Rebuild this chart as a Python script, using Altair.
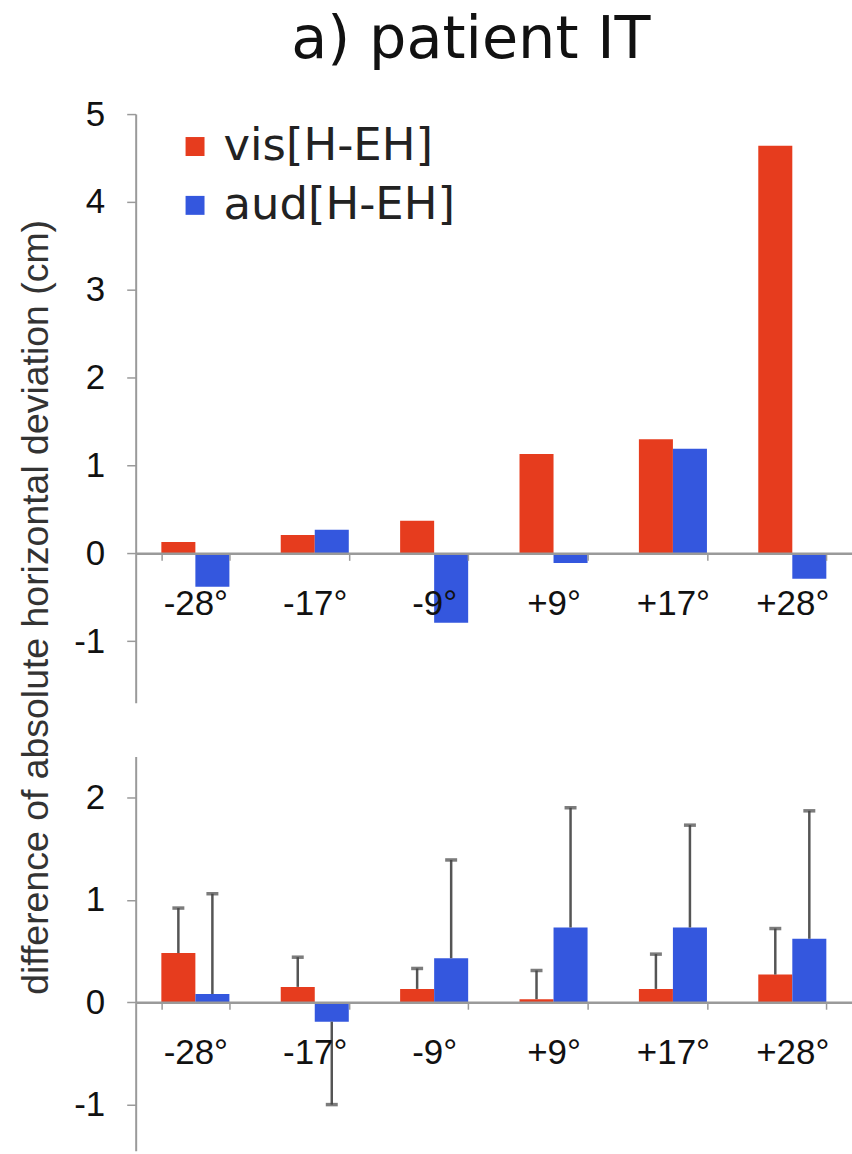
import altair as alt
import pandas as pd

cats = ["-28°", "-17°", "-9°", "+9°", "+17°", "+28°"]
series = ["vis[H-EH]", "aud[H-EH]"]
colors = ["#E63C1E", "#3457DE"]

top_vis = [0.13, 0.21, 0.37, 1.13, 1.30, 4.64]
top_aud = [-0.38, 0.27, -0.79, -0.11, 1.19, -0.29]

bot_vis = [0.48, 0.15, 0.13, 0.03, 0.13, 0.27]
bot_aud = [0.08, -0.19, 0.43, 0.73, 0.73, 0.62]
bot_vis_err = [0.92, 0.44, 0.33, 0.31, 0.47, 0.72]
bot_aud_err = [1.06, -1.00, 1.39, 1.90, 1.73, 1.87]

top_ticks = [-1, 0, 1, 2, 3, 4, 5]
bot_ticks = [-1, 0, 1, 2]
top_domain = [-1.7, 5.0]
bot_domain = [-1.45, 2.4]

W = 718
H_TOP = 590
H_BOT = 395

top_df = pd.DataFrame({
    "cat": cats * 2,
    "series": [series[0]] * 6 + [series[1]] * 6,
    "value": top_vis + top_aud,
})
bot_df = pd.DataFrame({
    "cat": cats * 2,
    "series": [series[0]] * 6 + [series[1]] * 6,
    "value": bot_vis + bot_aud,
    "err": bot_vis_err + bot_aud_err,
})

AX = "#9a9a9a"
LABEL_FONT = "Liberation Sans"


def x_enc(offset):
    return alt.X(
        "cat:N", sort=cats,
        scale=alt.Scale(paddingInner=0.43, paddingOuter=0.215),
        axis=alt.Axis(
            title=None, labelAngle=0, offset=offset, tickBand="extent",
            domainColor=AX, domainWidth=2.5, tickColor=AX, tickWidth=1.5,
            tickSize=7, labelFont=LABEL_FONT, labelFontSize=35,
            labelColor="#111", labelPadding=26, zindex=1,
        ),
    )


xoff = alt.XOffset("series:N", sort=series)


def y_axis(values, **kw):
    return alt.Axis(
        values=values, grid=False, domainColor=AX, domainWidth=2,
        tickColor=AX, tickWidth=1.5, tickSize=9, labelPadding=22,
        labelExpr="datum.value + ''",
        labelFont=LABEL_FONT, labelFontSize=35, labelColor="#111", **kw
    )


color_scale = alt.Scale(domain=series, range=colors)

top_off = -(0 - top_domain[0]) / (top_domain[1] - top_domain[0]) * H_TOP
bot_off = -(0 - bot_domain[0]) / (bot_domain[1] - bot_domain[0]) * H_BOT

top = alt.Chart(top_df).mark_bar().encode(
    x=x_enc(top_off),
    xOffset=xoff,
    y=alt.Y("value:Q", scale=alt.Scale(domain=top_domain, nice=False, zero=False),
            axis=y_axis(top_ticks,
                        title="difference of absolute horizontal deviation (cm)",
                        titleFont=LABEL_FONT, titleFontSize=37.5,
                        titleFontWeight="normal", titleColor="#333",
                        titleAngle=270, titleX=-88, titleY=494,
                        titleAlign="center", titleBaseline="alphabetic")),
    y2=alt.datum(0),
    color=alt.Color("series:N", scale=color_scale, sort=series,
                    legend=alt.Legend(
                        title=None, orient="none", legendX=37, legendY=10,
                        padding=0, symbolType="square", symbolSize=361,
                        symbolStrokeWidth=0, labelFont="DejaVu Sans",
                        labelFontSize=45, labelColor="#222", labelOffset=6,
                        labelLimit=600, rowPadding=13)),
).properties(width=W, height=H_TOP)

bars_bot = alt.Chart(bot_df).mark_bar().encode(
    x=x_enc(bot_off),
    xOffset=xoff,
    y=alt.Y("value:Q", scale=alt.Scale(domain=bot_domain, nice=False, zero=False),
            axis=y_axis(bot_ticks, title=None)),
    y2=alt.datum(0),
    color=alt.Color("series:N", scale=color_scale, sort=series, legend=None),
)
err_rule = alt.Chart(bot_df).mark_rule(color="#555", strokeWidth=2.5).encode(
    x=alt.X("cat:N", sort=cats), xOffset=xoff,
    y="value:Q", y2="err:Q",
)
err_cap = alt.Chart(bot_df).mark_tick(color="#444", thickness=3.5, size=12).encode(
    x=alt.X("cat:N", sort=cats), xOffset=xoff,
    y="err:Q",
)
bottom = alt.layer(bars_bot, err_rule, err_cap).properties(width=W, height=H_BOT)

chart = alt.vconcat(top, bottom, spacing=54, bounds="flush").resolve_legend(
    color="independent"
).properties(
    title=alt.TitleParams("a) patient IT", font="DejaVu Sans", fontSize=59,
                          fontWeight="normal", color="#111", anchor="middle",
                          frame="group", baseline="alphabetic", offset=-20, dx=-23),
    padding={"left": 17, "top": 10, "right": 0, "bottom": 0},
).configure_view(stroke=None)

chart.save("out.html", embed_options={"renderer": "svg", "actions": False})
